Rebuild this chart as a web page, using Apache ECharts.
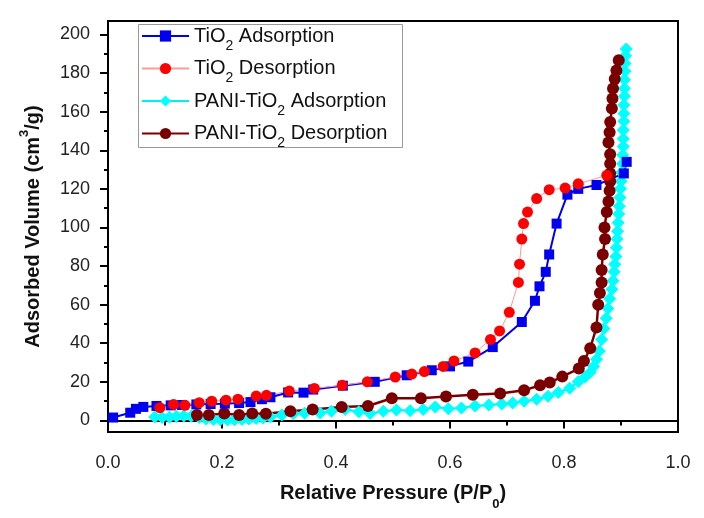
<!DOCTYPE html>
<html>
<head>
<meta charset="utf-8">
<script src="https://cdn.jsdelivr.net/npm/echarts@6/dist/echarts.min.js"></script>
<style>
html,body{margin:0;padding:0;background:#fff;}
#chart{width:704px;height:518px;}
</style>
</head>
<body>
<div id="chart"></div>
<script>
// ---- Data ----
const xTicks = [0, 0.2, 0.4, 0.6, 0.8, 1.0];
const yTickLabels = [0, 20, 40, 60, 80, 100, 120, 140, 160, 180, 200];
const yMinorTicks = [10, 30, 50, 70, 90, 110, 130, 150, 170, 190];

const seriesNames = ['TiO2 Adsorption', 'TiO2 Desorption', 'PANI-TiO2 Adsorption', 'PANI-TiO2 Desorption'];

const tio2AdsX = [0.009,0.039,0.049,0.062,0.085,0.11,0.13,0.155,0.18,0.205,0.23,0.25,0.27,0.285,0.316,0.343,0.36,0.412,0.468,0.524,0.568,0.6,0.632,0.675,0.726,0.749,0.757,0.768,0.774,0.787,0.806,0.825,0.857,0.905,0.91];
const tio2AdsY = [1.5,4,6,7,7.5,7.8,8,8.3,8.5,8.7,9,9.5,11,12,14.5,14.4,16,18,20,23.4,26,28,30.5,38,51,62,69.5,77,86,102,117,120,122,128,134];

const tio2DesX = [0.091,0.115,0.135,0.16,0.182,0.207,0.228,0.26,0.278,0.318,0.362,0.411,0.455,0.504,0.533,0.555,0.588,0.607,0.644,0.671,0.687,0.704,0.72,0.722,0.726,0.729,0.736,0.752,0.774,0.802,0.825,0.875];
const tio2DesY = [6.6,8.3,7.8,9.2,10,10.5,11,12.6,13,15.2,16.6,18.2,20,22.5,24,25.3,28,30.8,35,42,46.4,56,71.5,81,94,102,108,115,119.6,120.4,122.6,127];

const paniAdsX = [0.082,0.095,0.108,0.12,0.133,0.146,0.16,0.172,0.185,0.197,0.21,0.222,0.235,0.247,0.26,0.272,0.285,0.305,0.325,0.345,0.372,0.392,0.416,0.44,0.46,0.483,0.506,0.53,0.553,0.574,0.597,0.62,0.644,0.668,0.691,0.71,0.73,0.752,0.772,0.79,0.81,0.825,0.837,0.846,0.852,0.857,0.862,0.866,0.87,0.874,0.877,0.88,0.884,0.886,0.888,0.889,0.891,0.892,0.893,0.894,0.895,0.896,0.897,0.898,0.899,0.9,0.901,0.903,0.903,0.904,0.904,0.904,0.905,0.905,0.905,0.906,0.906,0.906,0.907,0.907,0.908,0.909];
const paniAdsY = [1.8,1.5,1.6,2,2.3,2.2,1.5,0.8,0.5,0.3,0.2,0.3,0.5,0.8,1,1.3,1.8,2.8,3.5,3.7,3.8,4.8,5.7,4.5,3.6,4.8,5.4,5,5.7,7,6,6.5,7.5,8,8.5,9,10,11,12.5,14.5,16.7,20,22.5,25,28,31.7,36,42,47.5,53,58,63,68,72.4,77,81,85,89.5,94,98,102.5,107,111,115.5,120,124,128.5,133,137.5,142,146,150.5,155,159,163.5,168,172,176.5,181,185,189,192.5];

const paniDesX = [0.156,0.177,0.204,0.23,0.253,0.277,0.32,0.359,0.41,0.456,0.498,0.549,0.593,0.64,0.688,0.73,0.758,0.775,0.797,0.826,0.835,0.846,0.857,0.86,0.863,0.866,0.866,0.868,0.872,0.871,0.875,0.878,0.88,0.881,0.881,0.881,0.881,0.878,0.88,0.881,0.884,0.885,0.886,0.889,0.892,0.896];
const paniDesY = [2.8,2.8,3.6,2.8,3.6,3.5,4.8,5.7,7,7.5,11.5,11.5,12.4,13.3,13.9,15.6,18.2,19.6,22.7,26.9,30.8,37.4,48.2,60,66,71.5,78,86,94,100,108,113.5,119,124,128,133,138,144,149.4,154.6,161.6,166.8,172,177,181.4,186.6];

function zip(xs, ys) { return xs.map((x, i) => [x, ys[i]]); }

const FONT = '"Liberation Sans", Arial, sans-serif';

const chart = echarts.init(document.getElementById('chart'), null, {renderer: 'canvas'});

function legendFmt(name) {
  return name.replace('TiO2', 'TiO{s|2}');
}

const option = {
  backgroundColor: '#ffffff',
  animation: false,
  grid: {
    left: 108, right: 26, top: 21, bottom: 86,
    show: true, borderColor: '#000', borderWidth: 2, backgroundColor: 'transparent'
  },
  graphic: [{
    type: 'rect', left: 138, top: 24, z: 5,
    shape: {width: 264, height: 123},
    style: {fill: '#fff', stroke: '#999', lineWidth: 1}
  }],
  legend: {
    orient: 'vertical',
    left: 141, top: 19,
    padding: 0,
    itemWidth: 47, itemHeight: 14, itemGap: -1.5,
    data: seriesNames,
    formatter: legendFmt,
    z: 6,
    textStyle: {
      fontSize: 20, fontFamily: FONT, color: '#111', lineHeight: 34,
      rich: {
        s: {fontSize: 14, fontFamily: FONT, color: '#111', verticalAlign: 'bottom', lineHeight: 34}
      }
    }
  },
  xAxis: {
    type: 'value', min: 0, max: 1, interval: 0.2,
    name: 'Relative Pressure (P/P{s|0})',
    nameLocation: 'middle', nameGap: 43,
    nameTextStyle: {
      fontSize: 20, fontWeight: 'bold', fontFamily: FONT, color: '#111', lineHeight: 34,
      rich: {s: {fontSize: 13, fontWeight: 'bold', fontFamily: FONT, color: '#111', verticalAlign: 'bottom', lineHeight: 34}}
    },
    axisLine: {show: true, lineStyle: {color: '#000', width: 2}},
    axisTick: {show: true, inside: false, length: 8, lineStyle: {color: '#000', width: 2}},
    minorTick: {show: true, splitNumber: 2, length: 5, lineStyle: {color: '#000', width: 2}},
    axisLabel: {fontSize: 18, fontFamily: FONT, color: '#222', margin: 22, formatter: v => v.toFixed(1)},
    splitLine: {show: false}, minorSplitLine: {show: false}
  },
  yAxis: [
    {
      type: 'value', min: -6, max: 207,
      name: 'Adsorbed Volume (cm{p|3}/g)',
      nameLocation: 'middle', nameGap: 60, nameRotate: 90,
      nameTextStyle: {
        fontSize: 20, fontWeight: 'bold', fontFamily: FONT, color: '#111', lineHeight: 30,
        rich: {p: {fontSize: 13, fontWeight: 'bold', fontFamily: FONT, color: '#111', verticalAlign: 'top', lineHeight: 30}}
      },
      axisLine: {show: true, lineStyle: {color: '#000', width: 2}},
      axisTick: {show: true, inside: false, length: 8, customValues: yTickLabels, lineStyle: {color: '#000', width: 2}},
      axisLabel: {fontSize: 18, fontFamily: FONT, color: '#222', margin: 18, customValues: yTickLabels},
      splitLine: {show: false}
    },
    {
      type: 'value', min: -6, max: 207, position: 'left',
      axisLine: {show: false},
      axisTick: {show: true, inside: false, length: 4, customValues: yMinorTicks, lineStyle: {color: '#000', width: 2}},
      axisLabel: {show: false},
      splitLine: {show: false}
    }
  ],
  series: [
    {
      name: seriesNames[2], type: 'line', data: zip(paniAdsX, paniAdsY),
      symbol: 'diamond', symbolSize: 13,
      itemStyle: {color: '#00ffff'},
      lineStyle: {color: '#00f0f0', width: 2}
    },
    {
      name: seriesNames[3], type: 'line', data: zip(paniDesX, paniDesY),
      symbol: 'circle', symbolSize: 12,
      itemStyle: {color: '#7a0000'},
      lineStyle: {color: '#7a0000', width: 2.5}
    },
    {
      name: seriesNames[0], type: 'line', data: zip(tio2AdsX, tio2AdsY),
      symbol: 'rect', symbolSize: 10,
      itemStyle: {color: '#0000ee'},
      lineStyle: {color: '#0000ee', width: 2}
    },
    {
      name: seriesNames[1], type: 'line', data: zip(tio2DesX, tio2DesY),
      symbol: 'circle', symbolSize: 11,
      itemStyle: {color: '#ff0000'},
      lineStyle: {color: '#ff9a9a', width: 1}
    }
  ]
};
chart.setOption(option);
</script>
</body>
</html>
